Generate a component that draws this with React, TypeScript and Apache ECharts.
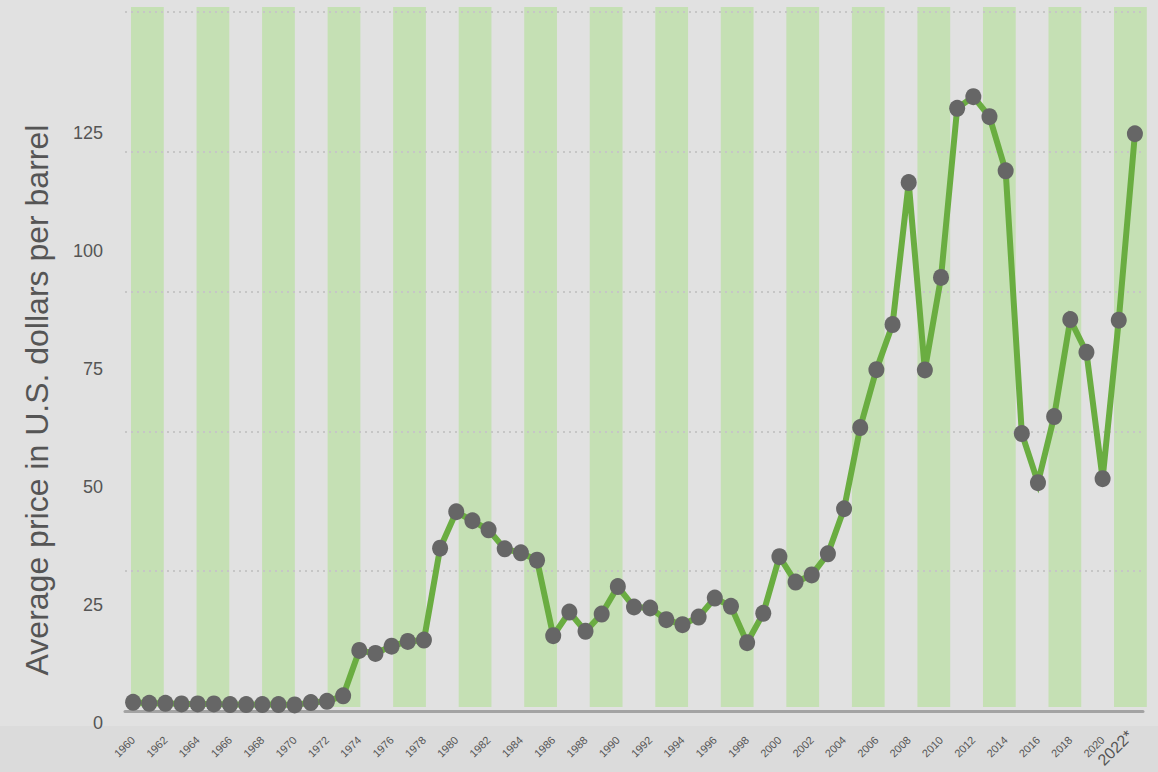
import React, { useEffect, useRef } from "react";
import * as echarts from "echarts";

const years = [
  "1960","1961","1962","1963","1964","1965","1966","1967","1968","1969",
  "1970","1971","1972","1973","1974","1975","1976","1977","1978","1979",
  "1980","1981","1982","1983","1984","1985","1986","1987","1988","1989",
  "1990","1991","1992","1993","1994","1995","1996","1997","1998","1999",
  "2000","2001","2002","2003","2004","2005","2006","2007","2008","2009",
  "2010","2011","2012","2013","2014","2015","2016","2017","2018","2019",
  "2020","2021","2022*",
];

const prices = [
  1.56, 1.38, 1.38, 1.27, 1.27, 1.27, 1.15, 1.15, 1.15, 1.15,
  1.09, 1.51, 1.74, 2.71, 10.83, 10.29, 11.6, 12.44, 12.68, 29.12,
  35.63, 34.02, 32.4, 29.0, 28.28, 26.97, 13.47, 17.7, 14.24, 17.34,
  22.25, 18.6, 18.42, 16.33, 15.44, 16.8, 20.2, 18.72, 12.21, 17.46,
  27.6, 23.05, 24.33, 28.1, 36.17, 50.69, 61.04, 69.1, 94.5, 61.0,
  77.53, 107.78, 109.86, 106.28, 96.59, 49.62, 40.83, 52.66, 70.0, 64.14,
  41.55, 69.88, 103.23,
];

const yTicks = { min: 0, max: 125, interval: 25 };
const bandSlots = Array.from({ length: 31 }, (_, i) => String(i));
const yTitle = "Average price in U.S. dollars per barrel";

const FONT = '"Liberation Sans", Arial, Helvetica, sans-serif';

export default function App() {
  const ref = useRef<HTMLDivElement>(null);
  useEffect(() => {
    if (!ref.current) return;
    const chart = echarts.init(ref.current, null, { renderer: "svg" });
    chart.setOption({
      animation: false,
      backgroundColor: "#e1e1e1",
      textStyle: { fontFamily: FONT },
      graphic: [
        {
          type: "rect",
          z: -10,
          silent: true,
          shape: { x: 0, y: 726, width: 1158, height: 46 },
          style: { fill: "#dbdbdb" },
        },
        {
          type: "text",
          x: 37,
          y: 400,
          rotation: Math.PI / 2,
          style: {
            text: yTitle,
            fontSize: 32,
            fontFamily: FONT,
            fill: "#555555",
            align: "center",
            verticalAlign: "middle",
            textAlign: "center",
            textVerticalAlign: "middle",
          },
        },
      ],
      grid: [
        { left: 125, right: 15, top: 12, bottom: 61, outerBoundsMode: "none", containLabel: false },
        { left: 111, width: 10, top: 133, bottom: 49, outerBoundsMode: "none", containLabel: false },
        { left: 131, width: 1015.8, top: 7, bottom: 65, outerBoundsMode: "none", containLabel: false },
      ],
      xAxis: [
        {
          type: "category",
          gridIndex: 0,
          data: years,
          boundaryGap: true,
          z: 1,
          axisLine: { show: true, lineStyle: { color: "#a3a3a3", width: 3 } },
          axisTick: { show: false },
          splitLine: { show: false },
          axisLabel: {
            interval: 1,
            rotate: 45,
            margin: 27,
            fontSize: 11,
            color: "#555555",
            fontFamily: FONT,
            formatter: (v: string) => (v === "2022*" ? `{big|${v}}` : v),
            rich: {
              big: {
                fontSize: 16,
                color: "#555555",
                fontFamily: FONT,
                padding: [0, 0, 14, 0],
              },
            },
          },
        },
        { type: "value", gridIndex: 1, show: false },
        {
          type: "category",
          gridIndex: 2,
          data: bandSlots,
          boundaryGap: true,
          z: 0,
          axisLine: { show: false },
          axisTick: { show: false },
          axisLabel: { show: false },
          splitLine: { show: false },
          splitArea: {
            show: true,
            areaStyle: { color: ["#c5e0b4", "rgba(0,0,0,0)"] },
          },
        },
      ],
      yAxis: [
        {
          type: "value",
          gridIndex: 0,
          min: yTicks.min,
          max: yTicks.max,
          interval: yTicks.interval,
          z: 1,
          axisLine: { show: false },
          axisTick: { show: false },
          axisLabel: { show: false },
          splitLine: {
            show: true,
            lineStyle: { color: "#c6c6c6", width: 2, type: [2, 4] },
          },
        },
        {
          type: "value",
          gridIndex: 1,
          min: yTicks.min,
          max: yTicks.max,
          interval: yTicks.interval,
          axisLine: { show: false },
          axisTick: { show: false },
          splitLine: { show: false },
          axisLabel: { fontSize: 18, color: "#555555", margin: 8, fontFamily: FONT },
        },
        { type: "value", gridIndex: 2, show: false, min: 0, max: 1 },
      ],
      series: [
        {
          type: "line",
          xAxisIndex: 0,
          yAxisIndex: 0,
          data: prices,
          z: 3,
          symbol: "circle",
          symbolSize: [16, 17],
          showSymbol: true,
          showAllSymbol: true,
          itemStyle: { color: "#666666" },
          lineStyle: { color: "#6aad41", width: 6, join: "miter", miterLimit: 10 },
        },
      ],
    });
    return () => chart.dispose();
  }, []);
  return (
    <div
      ref={ref}
      style={{ position: "absolute", left: 0, top: 0, width: 1158, height: 772 }}
    />
  );
}
